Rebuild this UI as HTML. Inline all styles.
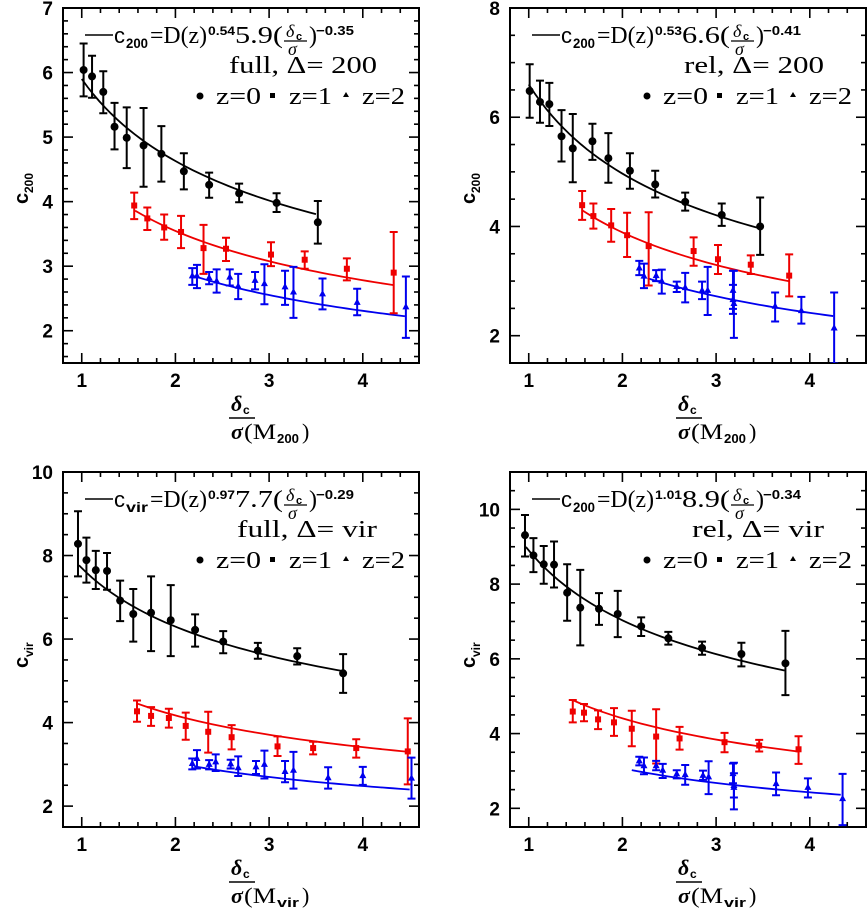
<!DOCTYPE html>
<html><head><meta charset="utf-8">
<style>
html,body{margin:0;padding:0;background:#fff;}
svg{display:block;}
text{font-family:"Liberation Sans",sans-serif;fill:#000;}
.serif{font-family:"Liberation Serif",serif;}
</style></head>
<body>
<svg id="fig" width="867" height="911" viewBox="0 0 867 911" xmlns="http://www.w3.org/2000/svg"></svg>
<script>
// ---- data (x = delta_c/sigma, y = concentration, hi/lo = error bar ends) ----
// Panel 1: full, Delta=200
const p1z0x=[1.02,1.11,1.23,1.35,1.48,1.66,1.85,2.09,2.36,2.68,3.08,3.52];
const p1z0y=[6.04,5.94,5.70,5.16,4.99,4.87,4.74,4.47,4.26,4.13,3.98,3.68];
const p1z0hi=[6.45,6.26,6.02,5.53,5.46,5.45,5.17,4.75,4.45,4.28,4.13,4.01];
const p1z0lo=[5.63,5.61,5.37,4.81,4.52,4.23,4.31,4.19,4.06,3.99,3.84,3.35];
const p1z1x=[1.56,1.70,1.88,2.06,2.30,2.54,3.02,3.38,3.83,4.33];
const p1z1y=[3.94,3.74,3.60,3.53,3.28,3.27,3.18,3.10,2.96,2.90];
const p1z1hi=[4.14,3.91,3.80,3.78,3.64,3.44,3.37,3.23,3.12,3.53];
const p1z1lo=[3.73,3.56,3.41,3.28,2.88,3.08,3.00,2.96,2.78,2.27];
const p1z2x=[2.18,2.23,2.36,2.44,2.58,2.67,2.85,2.95,3.17,3.26,3.57,3.94,4.46];
const p1z2y=[2.85,2.85,2.82,2.77,2.83,2.69,2.78,2.73,2.68,2.60,2.57,2.44,2.37];
const p1z2hi=[2.97,3.02,2.91,2.95,2.95,2.88,2.91,3.03,2.93,2.99,2.81,2.65,2.84];
const p1z2lo=[2.71,2.66,2.72,2.59,2.70,2.49,2.64,2.41,2.40,2.20,2.33,2.24,1.89];
// Panel 2: rel, Delta=200
const p2z0x=[1.01,1.12,1.22,1.35,1.47,1.68,1.85,2.08,2.35,2.67,3.06,3.47];
const p2z0y=[6.48,6.28,6.24,5.65,5.43,5.56,5.25,5.02,4.77,4.45,4.21,4.00];
const p2z0hi=[6.97,6.67,6.63,6.13,6.06,5.88,5.71,5.34,5.02,4.62,4.42,4.53];
const p2z0lo=[5.99,5.90,5.84,5.19,4.81,5.22,4.80,4.69,4.53,4.29,4.01,3.48];
const p2z1x=[1.57,1.69,1.88,2.05,2.28,2.76,3.02,3.37,3.78];
const p2z1y=[4.39,4.19,4.02,3.84,3.64,3.55,3.40,3.30,3.10];
const p2z1hi=[4.65,4.42,4.32,4.25,4.26,3.80,3.66,3.47,3.49];
const p2z1lo=[4.12,3.96,3.72,3.44,2.92,3.28,3.13,3.13,2.72];
const p2z2x=[2.18,2.23,2.36,2.42,2.58,2.67,2.85,2.91,3.18,3.18,3.19,3.63,3.91,4.26];
const p2z2y=[3.24,3.09,3.10,3.00,2.90,2.88,2.83,2.83,2.83,2.66,2.59,2.54,2.46,2.14];
const p2z2hi=[3.37,3.32,3.20,3.21,2.99,3.15,2.99,3.26,3.19,2.93,3.19,2.79,2.71,2.79];
const p2z2lo=[3.11,2.87,3.00,2.77,2.80,2.61,2.67,2.38,2.49,2.40,1.96,2.26,2.22,1.49];
// Panel 3: full, Delta=vir
const p3z0x=[0.96,1.05,1.15,1.27,1.41,1.55,1.74,1.95,2.21,2.51,2.88,3.30,3.79];
const p3z0y=[8.28,7.89,7.65,7.63,6.92,6.60,6.63,6.45,6.22,5.94,5.72,5.59,5.18];
const p3z0hi=[9.06,8.43,8.11,8.06,7.40,7.20,7.50,7.29,6.59,6.19,5.91,5.78,5.64];
const p3z0lo=[7.50,7.35,7.20,7.18,6.43,5.94,5.71,5.59,5.82,5.66,5.53,5.39,4.71];
const p3z1x=[1.59,1.74,1.93,2.11,2.35,2.60,3.09,3.47,3.93,4.48];
const p3z1y=[4.27,4.16,4.11,3.92,3.78,3.65,3.43,3.39,3.39,3.31];
const p3z1hi=[4.53,4.37,4.33,4.24,4.26,3.94,3.67,3.54,3.60,4.10];
const p3z1lo=[4.02,3.92,3.88,3.59,3.28,3.36,3.20,3.24,3.16,2.52];
const p3z2x=[2.18,2.23,2.36,2.43,2.59,2.67,2.86,2.95,3.17,3.26,3.63,4.00,4.52];
const p3z2y=[3.02,3.14,3.00,3.06,3.01,2.92,2.94,3.00,2.83,2.86,2.68,2.73,2.67];
const p3z2hi=[3.14,3.34,3.10,3.24,3.11,3.19,3.08,3.33,3.08,3.30,2.93,2.94,3.16];
const p3z2lo=[2.88,2.90,2.88,2.84,2.90,2.72,2.77,2.66,2.57,2.42,2.42,2.51,2.18];
// Panel 4: rel, Delta=vir
const p4z0x=[0.96,1.05,1.16,1.27,1.41,1.55,1.75,1.95,2.20,2.49,2.85,3.27,3.74];
const p4z0y=[9.31,8.77,8.53,8.52,7.77,7.37,7.34,7.20,6.87,6.55,6.29,6.13,5.88];
const p4z0hi=[9.85,9.23,9.02,9.14,8.53,8.38,7.76,7.82,7.11,6.72,6.46,6.43,6.75];
const p4z0lo=[8.74,8.32,8.01,7.91,7.02,6.36,6.91,6.58,6.61,6.38,6.11,5.80,5.03];
const p4z1x=[1.47,1.59,1.74,1.91,2.10,2.36,2.61,3.09,3.46,3.88];
const p4z1y=[4.59,4.56,4.38,4.30,4.13,3.92,3.87,3.77,3.68,3.58];
const p4z1hi=[4.90,4.79,4.62,4.68,4.61,4.65,4.18,4.02,3.83,3.93];
const p4z1lo=[4.30,4.33,4.12,3.94,3.66,3.20,3.57,3.50,3.52,3.19];
const p4z2x=[2.18,2.23,2.36,2.43,2.58,2.67,2.86,2.92,3.18,3.19,3.19,3.64,3.98,4.35];
const p4z2y=[3.27,3.14,3.14,3.02,2.92,2.90,2.88,2.84,2.93,2.61,2.56,2.66,2.56,2.26];
const p4z2hi=[3.38,3.36,3.27,3.19,3.02,3.16,3.01,3.26,3.20,2.94,3.22,2.96,2.80,2.92];
const p4z2lo=[3.15,2.91,3.02,2.81,2.80,2.63,2.76,2.38,2.67,2.29,1.97,2.35,2.29,1.55];
// Fits: c = amp * x^exp over [start,end]
const fitExp=[-0.35,-0.41,-0.29,-0.34];
const p1fitAmp=[5.9,4.52,3.75], p1fitStart=[1.0,1.57,2.2], p1fitEnd=[3.5,4.33,4.45];
const p2fitAmp=[6.6,5.17,4.27], p2fitStart=[1.0,1.57,2.27], p2fitEnd=[3.48,3.78,4.25];
const p3fitAmp=[7.7,5.10,3.71], p3fitStart=[0.97,1.6,2.2], p3fitEnd=[3.8,4.48,4.5];
const p4fitAmp=[8.9,5.58,3.89], p4fitStart=[0.97,1.48,2.1], p4fitEnd=[3.73,3.88,4.33];
// Axis tick labels
const xTickLabels=[1,2,3,4];
const p1yTicks=[2,3,4,5,6,7], p2yTicks=[2,4,6,8], p3yTicks=[2,4,6,8,10], p4yTicks=[2,4,6,8,10];

const NS="http://www.w3.org/2000/svg";
const svg=document.getElementById('fig');
const colors=['#000000','#ee0000','#0000ee'];
function mk(tag,attrs,parent){const e=document.createElementNS(NS,tag);for(const k in attrs)e.setAttribute(k,attrs[k]);(parent||svg).appendChild(e);return e;}
function txt(parent,x,y,s,size,extra){const t=mk('text',Object.assign({x:x,y:y,'font-size':size},extra||{}),parent);t.textContent=s;return t;}

function panel(cfg){
  const g=mk('g',{});
  
  
  const {x0,x1,y0,y1,xmin,xmax,ymin,ymax}=cfg;
  const sx=v=>x0+(v-xmin)/(xmax-xmin)*(x1-x0);
  const sy=v=>y1-(v-ymin)/(ymax-ymin)*(y1-y0);
  const cid='clip'+cfg.id;
  const cp=mk('clipPath',{id:cid},g);mk('rect',{x:x0,y:y0,width:x1-x0,height:y1-y0},cp);
  const fr=mk('rect',{x:x0,y:y0,width:x1-x0,height:y1-y0,fill:'none',stroke:'#000','stroke-width':2},g);
  
  
  const tk=mk('g',{stroke:'#000','stroke-width':1.6},g);
  
  
  for(let i=Math.ceil(xmin*5-1e-6);i<=xmax*5+1e-6;i++){const v=i/5;const maj=Math.abs(v-Math.round(v))<1e-6;const L=maj?10:5;const X=sx(v);
    mk('line',{x1:X,y1:y1,x2:X,y2:y1-L},tk);mk('line',{x1:X,y1:y0,x2:X,y2:y0+L},tk);}
  for(let i=Math.ceil(ymin/cfg.ym-1e-6);i<=ymax/cfg.ym+1e-6;i++){const v=i*cfg.ym;const maj=cfg.yTicks.some(t=>Math.abs(t-v)<1e-6);const L=maj?10:5;const Y=sy(v);
    mk('line',{x1:x0,y1:Y,x2:x0+L,y2:Y},tk);mk('line',{x1:x1,y1:Y,x2:x1-L,y2:Y},tk);}
  xTickLabels.forEach(v=>{const t=txt(g,sx(v),y1+24,String(v),19,{'text-anchor':'middle','font-weight':'bold'});
    
    });
  cfg.yTicks.forEach(v=>{const t=txt(g,x0-10,sy(v)+7,String(v),19,{'text-anchor':'end','font-weight':'bold'});
    
    });
  const plot=mk('g',{'clip-path':'url(#'+cid+')'},g);
  for(let s=0;s<3;s++){let d='';const a=cfg.fitStart[s],b=cfg.fitEnd[s];
    for(let k=0;k<=40;k++){const v=a+(b-a)*k/40;const c=cfg.fitAmp[s]*Math.pow(v,cfg.exp);d+=(k?'L':'M')+sx(v).toFixed(2)+' '+sy(c).toFixed(2);}
    const p=mk('path',{d:d,fill:'none',stroke:colors[s],'stroke-width':1.8},plot);
    
    }
  for(let s=0;s<3;s++){const S=cfg.series[s];
    const sg=mk('g',{},plot);
    
    
    for(let i=0;i<S.x.length;i++){const X=sx(S.x[i]),Y=sy(S.y[i]),H=sy(S.hi[i]),Lo=sy(S.lo[i]);
      const eb=mk('path',{d:`M${X} ${H}V${Lo}M${X-4} ${H}H${X+4}M${X-4} ${Lo}H${X+4}`,stroke:colors[s],'stroke-width':2,fill:'none'},sg);
      
      
      let m;
      if(s===0)m=mk('circle',{cx:X,cy:Y,r:4,fill:colors[0]},sg);
      else if(s===1)m=mk('rect',{x:X-3,y:Y-3,width:6,height:6,fill:colors[1]},sg);
      else m=mk('path',{d:`M${X} ${Y-4}L${X+3.5} ${Y+2.5}L${X-3.5} ${Y+2.5}Z`,fill:colors[2]},sg);
      
      }}
  const lg=mk('g',{},g);
  
  
  mk('line',{x1:x0+22,y1:y0+27,x2:x0+50,y2:y0+27,stroke:'#000','stroke-width':1.5},lg);
  txt(lg,x0+51,y0+35,'c',22);
  txt(lg,x0+63,y0+40,cfg.csub,14,{'font-weight':'bold',textLength:22,lengthAdjust:'spacingAndGlyphs'});
  txt(lg,x0+87,y0+35,'=D(z)',24,{class:'serif',textLength:57,lengthAdjust:'spacingAndGlyphs'});
  txt(lg,x0+145,y0+27,cfg.pw,12,{'font-weight':'bold',textLength:27,lengthAdjust:'spacingAndGlyphs'});
  txt(lg,x0+172,y0+35,cfg.amp+'(',24,{class:'serif',textLength:48,lengthAdjust:'spacingAndGlyphs'});
  txt(lg,x0+223,y0+29,'δ',18,{class:'serif','font-style':'italic'});
  txt(lg,x0+233,y0+32,'c',11,{'font-weight':'bold'});
  mk('line',{x1:x0+221,y1:y0+33,x2:x0+244,y2:y0+33,stroke:'#000','stroke-width':1.2},lg);
  txt(lg,x0+225,y0+47,'σ',18,{class:'serif','font-style':'italic'});
  txt(lg,x0+246,y0+35,')',24,{class:'serif'});
  txt(lg,x0+253,y0+27,cfg.ex,13,{'font-weight':'bold',textLength:38,lengthAdjust:'spacingAndGlyphs'});
  txt(lg,x0+314,y0+65,cfg.tag,24,{'text-anchor':'end',class:'serif',textLength:cfg.tagW,lengthAdjust:'spacingAndGlyphs'});
  mk('circle',{cx:x0+137,cy:y0+88,r:3.5,fill:'#000'},lg);
  txt(lg,x0+153,y0+96,'z=0',24,{class:'serif',textLength:45,lengthAdjust:'spacingAndGlyphs'});
  mk('rect',{x:x0+207,y:y0+85,width:5,height:5,fill:'#000'},lg);
  txt(lg,x0+226,y0+96,'z=1',24,{class:'serif',textLength:43,lengthAdjust:'spacingAndGlyphs'});
  mk('path',{d:`M${x0+283} ${y0+84}L${x0+286} ${y0+89}L${x0+280} ${y0+89}Z`,fill:'#000'},lg);
  txt(lg,x0+299,y0+96,'z=2',24,{class:'serif',textLength:43,lengthAdjust:'spacingAndGlyphs'});
  const xt=mk('g',{},g);
  
  
  const cx=x0+178;
  txt(xt,cx-10,y1+48,'δ',22,{class:'serif','font-style':'italic','font-weight':'bold'});
  txt(xt,cx+2,y1+51,'c',12,{'font-weight':'bold'});
  mk('line',{x1:cx-12,y1:y1+55,x2:cx+14,y2:y1+55,stroke:'#000','stroke-width':1.5},xt);
  txt(xt,cx-10,y1+76,'σ',22,{class:'serif','font-style':'italic','font-weight':'bold'});
  txt(xt,cx+3,y1+76,'(M',22,{class:'serif',textLength:32,lengthAdjust:'spacingAndGlyphs'});
  txt(xt,cx+36,y1+80,cfg.msub,13,{'font-weight':'bold',textLength:cfg.msub.length>3?23:22,lengthAdjust:'spacingAndGlyphs'});
  txt(xt,cx+61,y1+76,')',22,{class:'serif'});
  const yt=mk('g',{transform:`translate(${x0-35},${y0+182}) rotate(-90)`},g);
  
  
  txt(yt,-14,0,'c',20,{'font-weight':'bold'});
  txt(yt,-3,5,cfg.ysub,12,{'font-weight':'bold'});
}
const ser=(x,y,hi,lo)=>({x,y,hi,lo});
panel({id:1,name:'panel-full-200',x0:63,x1:419,y0:8,y1:363,xmin:0.8,xmax:4.6,ymin:1.5,ymax:7,ym:0.2,yTicks:p1yTicks,
  series:[ser(p1z0x,p1z0y,p1z0hi,p1z0lo),ser(p1z1x,p1z1y,p1z1hi,p1z1lo),ser(p1z2x,p1z2y,p1z2hi,p1z2lo)],
  fitAmp:p1fitAmp,fitStart:p1fitStart,fitEnd:p1fitEnd,exp:fitExp[0],csub:'200',ysub:'200',pw:'0.54',amp:'5.9',ex:'−0.35',tag:'full,  Δ=  200',tagW:148,msub:'200'});
panel({id:2,name:'panel-rel-200',x0:510,x1:866,y0:8,y1:363,xmin:0.8,xmax:4.6,ymin:1.5,ymax:8,ym:0.5,yTicks:p2yTicks,
  series:[ser(p2z0x,p2z0y,p2z0hi,p2z0lo),ser(p2z1x,p2z1y,p2z1hi,p2z1lo),ser(p2z2x,p2z2y,p2z2hi,p2z2lo)],
  fitAmp:p2fitAmp,fitStart:p2fitStart,fitEnd:p2fitEnd,exp:fitExp[1],csub:'200',ysub:'200',pw:'0.53',amp:'6.6',ex:'−0.41',tag:'rel,  Δ=  200',tagW:140,msub:'200'});
panel({id:3,name:'panel-full-vir',x0:63,x1:419,y0:472,y1:827,xmin:0.8,xmax:4.6,ymin:1.5,ymax:10,ym:0.5,yTicks:p3yTicks,
  series:[ser(p3z0x,p3z0y,p3z0hi,p3z0lo),ser(p3z1x,p3z1y,p3z1hi,p3z1lo),ser(p3z2x,p3z2y,p3z2hi,p3z2lo)],
  fitAmp:p3fitAmp,fitStart:p3fitStart,fitEnd:p3fitEnd,exp:fitExp[2],csub:'vir',ysub:'vir',pw:'0.97',amp:'7.7',ex:'−0.29',tag:'full,  Δ=  vir',tagW:140,msub:'vir'});
panel({id:4,name:'panel-rel-vir',x0:510,x1:866,y0:472,y1:827,xmin:0.8,xmax:4.6,ymin:1.5,ymax:11,ym:0.5,yTicks:p4yTicks,
  series:[ser(p4z0x,p4z0y,p4z0hi,p4z0lo),ser(p4z1x,p4z1y,p4z1hi,p4z1lo),ser(p4z2x,p4z2y,p4z2hi,p4z2lo)],
  fitAmp:p4fitAmp,fitStart:p4fitStart,fitEnd:p4fitEnd,exp:fitExp[3],csub:'200',ysub:'vir',pw:'1.01',amp:'8.9',ex:'−0.34',tag:'rel,  Δ=  vir',tagW:132,msub:'vir'});
</script>
</body></html>
